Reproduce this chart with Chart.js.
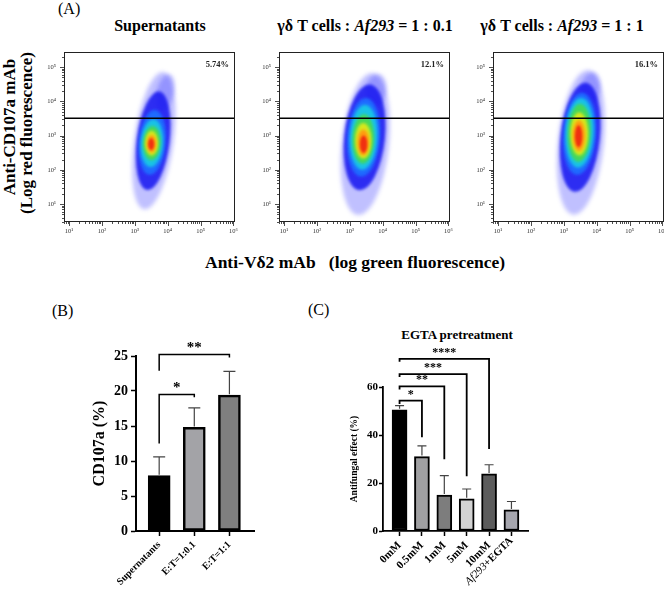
<!DOCTYPE html>
<html>
<head>
<meta charset="utf-8">
<script src="https://cdn.jsdelivr.net/npm/chart.js@4.4.1/dist/chart.umd.min.js"></script>
<style>
body { margin: 0; background: #fff; }
#page { position: relative; width: 664px; height: 592px; overflow: hidden; font-family: "Liberation Serif", "Times New Roman", serif; color: #000; }
.box { position: absolute; }
.txt { position: absolute; white-space: pre; line-height: 1; }
.rot { transform: translate(-50%, -50%) rotate(-90deg); }
.mid { transform: translateX(-50%); }
</style>
</head>
<body>
<div id="page">
  <div class="txt" style="left:58px;top:1px;font-size:16px;">(A)</div>
  <div class="txt mid" style="left:160px;top:18px;font-size:16px;font-weight:bold;">Supernatants</div>
  <div class="txt mid" style="left:365px;top:18px;font-size:16px;font-weight:bold;">γδ T cells : <i>Af293</i> = 1 : 0.1</div>
  <div class="txt mid" style="left:562px;top:18px;font-size:16px;font-weight:bold;">γδ T cells : <i>Af293</i> = 1 : 1</div>
  <div class="txt rot" style="left:9px;top:127px;font-size:17px;font-weight:bold;">Anti-CD107a mAb</div>
  <div class="txt rot" style="left:26px;top:133px;font-size:17px;font-weight:bold;">(Log red fluorescence)</div>
  <div class="txt" style="left:205px;top:254px;font-size:17.5px;font-weight:bold;">Anti-Vδ2 mAb   (log green fluorescence)</div>
  <div class="txt" style="left:52px;top:303px;font-size:16px;">(B)</div>
  <div class="txt" style="left:308px;top:302px;font-size:16px;">(C)</div>
  <div class="txt mid" style="left:457px;top:328px;font-size:13px;font-weight:bold;">EGTA pretreatment</div>

  <div class="box" style="left:42px;top:46px;"><canvas id="flow1" width="201" height="192"></canvas></div>
  <div class="box" style="left:257px;top:46px;"><canvas id="flow2" width="201" height="192"></canvas></div>
  <div class="box" style="left:471px;top:46px;"><canvas id="flow3" width="201" height="192"></canvas></div>
  <div class="box" style="left:80px;top:330px;"><canvas id="chartB" width="200" height="262"></canvas></div>
  <div class="box" style="left:340px;top:340px;"><canvas id="chartC" width="220" height="252"></canvas></div>
</div>
<script>
// panel A: gate and axis range (log scales)
var gatePercent = ['5.74%', '12.1%', '16.1%'];
var gateLevel = 3200;
var flowX = [7, 1.12e6];
var flowY = [3, 2.75e5];
var sup = ['\u2070', '\u00b9', '\u00b2', '\u00b3', '\u2074', '\u2075', '\u2076'];

// density contours:
// [log10 x centre, log10 y centre, log10 x radius, log10 y radius, tilt deg, density level]
var cloudSup = [
  [3.58, 2.85, 0.60, 2.02, 8, 0],
  [3.92, 4.25, 0.26, 0.55, 14, 0],
  [3.56, 2.85, 0.50, 1.45, 7, 1],
  [3.53, 2.80, 0.41, 0.95, 5, 2],
  [3.52, 2.78, 0.34, 0.70, 4, 3],
  [3.52, 2.78, 0.27, 0.50, 3, 4],
  [3.51, 2.78, 0.20, 0.36, 0, 5],
  [3.51, 2.76, 0.14, 0.26, 0, 6],
  [3.50, 2.75, 0.09, 0.17, 0, 7]
];
var cloudLow = [
  [3.47, 2.75, 0.72, 2.08, 6, 0],
  [3.78, 4.30, 0.32, 0.50, 12, 0],
  [3.45, 2.95, 0.62, 1.55, 6, 1],
  [3.42, 2.95, 0.50, 1.15, 4, 2],
  [3.42, 2.95, 0.42, 0.95, 3, 3],
  [3.41, 2.90, 0.33, 0.72, 2, 4],
  [3.41, 2.85, 0.25, 0.52, 0, 5],
  [3.41, 2.80, 0.18, 0.38, 0, 6],
  [3.42, 2.75, 0.11, 0.25, 0, 7]
];
var cloudHigh = [
  [3.52, 2.80, 0.70, 2.12, 6, 0],
  [3.80, 4.35, 0.30, 0.50, 12, 0],
  [3.50, 2.95, 0.60, 1.60, 6, 1],
  [3.48, 3.05, 0.50, 1.20, 4, 2],
  [3.48, 3.08, 0.43, 1.02, 3, 3],
  [3.47, 3.08, 0.35, 0.85, 2, 4],
  [3.47, 3.05, 0.27, 0.63, 0, 5],
  [3.46, 3.00, 0.19, 0.45, 0, 6],
  [3.45, 2.98, 0.11, 0.32, 0, 7]
];
var densityColors = ['rgba(45,45,255,0.30)', 'rgba(25,25,240,0.88)', '#1f6bff', '#19c3e6', '#44d85c', '#d8e81c', '#ff9a10', '#f03010'];
var densityBlur = [2.2, 1.4, 1.6, 1.4, 1.4, 1.4, 1.4, 1];

// panel B
var labelsB = ['Supernatants', 'E:T=1:0.1', 'E:T=1:1'];
var meanB = [7.9, 14.8, 19.4];
var errB = [10.6, 17.6, 22.8];
// [from, to, bracket level, left leg end, right leg end, text]
var sigB = [
  [0, 1, 19.5, 12.5, 19.1, '*'],
  [0, 2, 25.2, 22.9, 24.8, '**']
];
var colorsB = ['#000000', '#a3a3a7', '#7f7f7f'];

// panel C
var labelsC = ['0mM', '0.5mM', '1mM', '5mM', '10mM', 'Af293+EGTA'];
var meanC = [50.5, 31.0, 15.0, 13.4, 23.8, 8.8];
var errC = [52.2, 35.5, 23.1, 17.5, 27.6, 12.3];
var sigC = [
  [0, 1, 54.3, 52.9, 39.1, '*'],
  [0, 2, 60.3, 59.0, 29.9, '**'],
  [0, 3, 65.4, 64.2, 22.8, '***'],
  [0, 4, 71.7, 70.5, 34.2, '****']
];
var colorsC = ['#000000', '#a0a0a2', '#7d7d7d', '#d3d3d3', '#5c5c5c', '#a6a6ae'];

var serif = '"Liberation Serif", "Times New Roman", serif';

function isDecade(v) {
  var e = Math.log10(v);
  return Math.abs(e - Math.round(e)) < 1e-9;
}

function logTicks(scale) {
  var t = [];
  for (var k = 0; k <= 6; k++) {
    for (var m = 1; m < 10; m++) {
      var v = m * Math.pow(10, k);
      if (v >= scale.min && v <= scale.max) t.push({value: v});
    }
  }
  scale.ticks = t;
}

function decadeLabel(v) {
  return isDecade(v) ? '10' + sup[Math.round(Math.log10(v))] : '';
}

function cloudPlugin(layers) {
  return {
    id: 'cloud',
    beforeDatasetsDraw: function(chart) {
      var ctx = chart.ctx, a = chart.chartArea, x = chart.scales.x, y = chart.scales.y;
      ctx.save();
      ctx.beginPath();
      ctx.rect(a.left, a.top, a.width, a.height);
      ctx.clip();
      layers.forEach(function(l) {
        var px = x.getPixelForValue(Math.pow(10, l[0]));
        var py = y.getPixelForValue(Math.pow(10, l[1]));
        var rx = x.getPixelForValue(Math.pow(10, l[0] + l[2])) - px;
        var ry = py - y.getPixelForValue(Math.pow(10, l[1] + l[3]));
        ctx.filter = 'blur(' + densityBlur[l[5]] + 'px)';
        ctx.fillStyle = densityColors[l[5]];
        ctx.beginPath();
        ctx.ellipse(px, py, rx, ry, l[4] * Math.PI / 180, 0, 2 * Math.PI);
        ctx.fill();
      });
      ctx.restore();
    }
  };
}

function framePlugin(percent) {
  return {
    id: 'frame',
    afterDraw: function(chart) {
      var ctx = chart.ctx, a = chart.chartArea, x = chart.scales.x, y = chart.scales.y;
      ctx.save();
      ctx.strokeStyle = '#222';
      ctx.lineWidth = 1;
      ctx.strokeRect(a.left + 0.5, a.top + 0.5, a.width - 1, a.height - 1);
      ctx.lineWidth = 0.8;
      ctx.beginPath();
      x.ticks.forEach(function(t) {
        var px = Math.round(x.getPixelForValue(t.value)) + 0.5;
        ctx.moveTo(px, a.bottom);
        ctx.lineTo(px, a.bottom + (isDecade(t.value) ? 4 : 2));
      });
      y.ticks.forEach(function(t) {
        var py = Math.round(y.getPixelForValue(t.value)) + 0.5;
        ctx.moveTo(a.left, py);
        ctx.lineTo(a.left - (isDecade(t.value) ? 4 : 2), py);
      });
      ctx.stroke();
      ctx.fillStyle = '#222';
      ctx.font = 'bold 8.5px ' + serif;
      ctx.textAlign = 'right';
      ctx.textBaseline = 'middle';
      ctx.fillText(percent, a.right - 6, a.top + 13);
      ctx.restore();
    }
  };
}

function errorPlugin(values, cap) {
  return {
    id: 'errors',
    afterDatasetsDraw: function(chart) {
      var ctx = chart.ctx, y = chart.scales.y, meta = chart.getDatasetMeta(0);
      ctx.save();
      ctx.strokeStyle = '#444';
      ctx.lineWidth = 1.2;
      values.forEach(function(v, i) {
        var bar = meta.data[i];
        var top = y.getPixelForValue(v);
        ctx.beginPath();
        ctx.moveTo(bar.x, bar.y - 1);
        ctx.lineTo(bar.x, top);
        ctx.moveTo(bar.x - cap / 2, top);
        ctx.lineTo(bar.x + cap / 2, top);
        ctx.stroke();
      });
      ctx.restore();
    }
  };
}

function bracketPlugin(items, font, width) {
  return {
    id: 'brackets',
    afterDraw: function(chart) {
      var ctx = chart.ctx, x = chart.scales.x, y = chart.scales.y;
      ctx.save();
      ctx.strokeStyle = '#000';
      ctx.fillStyle = '#000';
      ctx.lineWidth = width;
      ctx.font = font;
      ctx.textAlign = 'center';
      ctx.textBaseline = 'alphabetic';
      items.forEach(function(b) {
        var x1 = x.getPixelForValue(b[0]), x2 = x.getPixelForValue(b[1]);
        var yl = y.getPixelForValue(b[2]);
        ctx.beginPath();
        ctx.moveTo(x1, y.getPixelForValue(b[3]));
        ctx.lineTo(x1, yl);
        ctx.lineTo(x2, yl);
        ctx.lineTo(x2, y.getPixelForValue(b[4]));
        ctx.stroke();
        ctx.fillText(b[5], (x1 + x2) / 2, yl - 3);
      });
      ctx.restore();
    }
  };
}

// strain name in italics inside a category label ("Af293+EGTA")
function strainLabelPlugin(labels, index, size) {
  return {
    id: 'strainLabel',
    afterDraw: function(chart) {
      var ctx = chart.ctx, x = chart.scales.x, a = chart.chartArea;
      var parts = labels[index].split('+');
      var rest = '+' + parts[1];
      ctx.save();
      ctx.translate(x.getPixelForValue(index), a.bottom + 8);
      ctx.rotate(-Math.PI / 4);
      ctx.fillStyle = '#000';
      ctx.textBaseline = 'middle';
      ctx.textAlign = 'right';
      ctx.font = 'bold ' + size + 'px ' + serif;
      ctx.fillText(rest, 0, 0);
      var w = ctx.measureText(rest).width;
      ctx.font = 'italic ' + size + 'px ' + serif;
      ctx.fillText(parts[0], -w, 0);
      ctx.restore();
    }
  };
}

function flowChart(id, layers, percent) {
  new Chart(document.getElementById(id), {
    type: 'scatter',
    data: {
      datasets: [{
        data: [{x: flowX[0], y: gateLevel}, {x: flowX[1], y: gateLevel}],
        showLine: true,
        borderColor: '#000',
        borderWidth: 1.4,
        pointRadius: 0
      }]
    },
    options: {
      responsive: false,
      animation: false,
      layout: {padding: {top: 6, right: 8, left: 0, bottom: 0}},
      plugins: {legend: {display: false}, tooltip: {enabled: false}},
      scales: {
        x: {
          type: 'logarithmic', min: flowX[0], max: flowX[1],
          afterBuildTicks: logTicks,
          afterFit: function(s) { s.height = 16; s.paddingLeft = 0; s.paddingRight = 0; },
          grid: {display: false, drawTicks: false}, border: {display: false},
          ticks: {autoSkip: false, maxRotation: 0, padding: 5, color: '#333',
                  font: {family: serif, size: 6.5}, callback: decadeLabel}
        },
        y: {
          type: 'logarithmic', min: flowY[0], max: flowY[1],
          afterBuildTicks: logTicks,
          afterFit: function(s) { s.width = 22; s.paddingTop = 0; s.paddingBottom = 0; },
          grid: {display: false, drawTicks: false}, border: {display: false},
          ticks: {autoSkip: false, padding: 8, color: '#333',
                  font: {family: serif, size: 6.5}, callback: decadeLabel}
        }
      }
    },
    plugins: [cloudPlugin(layers), framePlugin(percent)]
  });
}

flowChart('flow1', cloudSup, gatePercent[0]);
flowChart('flow2', cloudLow, gatePercent[1]);
flowChart('flow3', cloudHigh, gatePercent[2]);

function barChart(id, cfg) {
  var extra = [errorPlugin(cfg.errors, cfg.cap), bracketPlugin(cfg.sig, cfg.sigFont, cfg.sigWidth)];
  if (cfg.strainIndex !== undefined) extra.push(strainLabelPlugin(cfg.labels, cfg.strainIndex, cfg.xFont));
  new Chart(document.getElementById(id), {
    type: 'bar',
    data: {
      datasets: [{
        data: cfg.values.map(function(v, i) { return {x: i, y: v}; }),
        backgroundColor: cfg.colors,
        borderColor: '#000',
        borderWidth: cfg.border,
        borderSkipped: false,
        barThickness: cfg.barWidth
      }]
    },
    options: {
      responsive: false,
      animation: false,
      layout: {padding: cfg.padding},
      plugins: {legend: {display: false}, tooltip: {enabled: false}},
      scales: {
        x: {
          type: 'linear', min: cfg.xRange[0], max: cfg.xRange[1], offset: false,
          afterBuildTicks: function(s) { s.ticks = cfg.labels.map(function(l, i) { return {value: i}; }); },
          afterFit: function(s) { s.height = cfg.xHeight; s.paddingLeft = 0; s.paddingRight = 0; },
          grid: {display: true, drawOnChartArea: false, offset: false, tickLength: 5, tickWidth: 1.5, tickColor: '#000'},
          border: {display: true, color: '#000', width: cfg.axisWidth},
          ticks: {autoSkip: false, minRotation: 45, maxRotation: 45, padding: cfg.xPad, color: '#000',
                  font: {family: serif, size: cfg.xFont, weight: 'bold'},
                  callback: function(v) { return v === cfg.strainIndex ? '' : cfg.labels[v]; }}
        },
        y: {
          min: 0, max: cfg.yMax,
          afterFit: function(s) { s.width = cfg.yWidth; },
          grid: {display: true, drawOnChartArea: false, tickLength: cfg.yTick, tickWidth: 1.5, tickColor: '#000'},
          border: {display: true, color: '#000', width: cfg.axisWidth},
          ticks: {stepSize: cfg.yStep, padding: cfg.yPad, color: '#000', font: {family: serif, size: cfg.yFont, weight: 'bold'}},
          title: {display: true, text: cfg.yTitle, color: '#000', padding: {top: cfg.titlePad, bottom: 0},
                  font: {family: serif, size: cfg.titleFont, weight: 'bold'}}
        }
      }
    },
    plugins: extra
  });
}

barChart('chartB', {
  labels: labelsB, values: meanB, errors: errB, sig: sigB, colors: colorsB,
  xRange: [-0.66, 2.70], yMax: 25, yStep: 5, barWidth: 22, border: 2.5, cap: 12,
  padding: {top: 26, right: 26, left: 0, bottom: 0}, xHeight: 61, yWidth: 56,
  axisWidth: 2, yTick: 5, yPad: 3, yFont: 14, xFont: 10, xPad: 3,
  yTitle: 'CD107a (%)', titleFont: 16, titlePad: 10,
  sigFont: 'bold 15px ' + serif, sigWidth: 1.5
});

barChart('chartC', {
  labels: labelsC, values: meanC, errors: errC, sig: sigC, colors: colorsC,
  xRange: [-0.74, 5.74], yMax: 60, yStep: 20, barWidth: 15, border: 2, cap: 9,
  padding: {top: 47, right: 32, left: 0, bottom: 0}, xHeight: 61, yWidth: 43,
  axisWidth: 1.8, yTick: 4, yPad: 1, yFont: 11, xFont: 11, xPad: 3,
  yTitle: 'Antifungal effect (%)', titleFont: 9.5, titlePad: 9,
  sigFont: 'bold 12px ' + serif, sigWidth: 1.8, strainIndex: 5
});
</script>
</body>
</html>
